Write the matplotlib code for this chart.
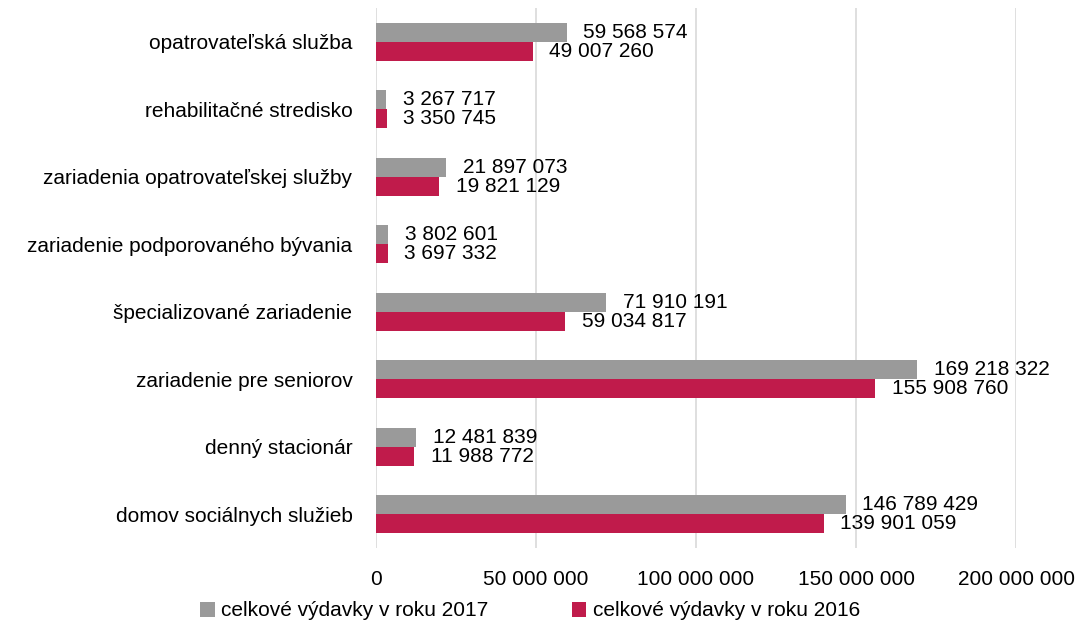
import matplotlib.pyplot as plt
import numpy as np

# Expenditure per type of social service, 2016 vs 2017
categories = ['opatrovateľská služba', 'rehabilitačné stredisko',
              'zariadenia opatrovateľskej služby', 'zariadenie podporovaného bývania',
              'špecializované zariadenie', 'zariadenie pre seniorov',
              'denný stacionár', 'domov sociálnych služieb']
values_2017 = [59568574, 3267717, 21897073, 3802601, 71910191, 169218322, 12481839, 146789429]
values_2016 = [49007260, 3350745, 19821129, 3697332, 59034817, 155908760, 11988772, 139901059]
xticks = [0, 50000000, 100000000, 150000000, 200000000]

plt.rcParams['font.family'] = ['Liberation Sans', 'DejaVu Sans']

def fmt(v):
    return f'{v:,}'.replace(',', ' ')

GRAY = '#9a9a9a'
RED = '#c01b4b'
FS = 15

fig = plt.figure(figsize=(10.86, 6.27), dpi=100)
ax = fig.add_axes([376 / 1086, 1 - 548 / 627, (1016 - 376) / 1086, 540 / 627])

y = np.arange(len(categories))
h = 0.285
ax.barh(y - h / 2, values_2017, height=h, color=GRAY, label='celkové výdavky v roku 2017', zorder=2)
ax.barh(y + h / 2, values_2016, height=h, color=RED, label='celkové výdavky v roku 2016', zorder=2)

for yi, v in zip(y, values_2017):
    ax.annotate(fmt(v), (v, yi - h / 2), xytext=(12, 0), textcoords='offset points',
                va='center', ha='left', fontsize=FS)
for yi, v in zip(y, values_2016):
    ax.annotate(fmt(v), (v, yi + h / 2), xytext=(12, 0), textcoords='offset points',
                va='center', ha='left', fontsize=FS)

ax.set_xlim(0, 200000000)
ax.set_ylim(len(categories) - 0.5, -0.5)
ax.set_xticks(xticks)
ax.set_xticklabels([fmt(t) for t in xticks], fontsize=FS)
ax.set_yticks(y)
ax.set_yticklabels(categories, fontsize=FS)
ax.tick_params(axis='x', length=0, pad=16)
ax.tick_params(axis='y', length=0, pad=17)
ax.grid(axis='x', color='#d9d9d9', linewidth=1.2, zorder=0)
for s in ax.spines.values():
    s.set_visible(False)

ax.legend(loc='center left', bbox_to_anchor=(190 / 1086, 1 - 611 / 627), bbox_transform=fig.transFigure,
          ncol=2, frameon=False, fontsize=FS, handlelength=0.7, handleheight=0.7,
          handletextpad=0.3, columnspacing=4.0, borderpad=0.0)

fig.savefig('out.png', dpi=100)
